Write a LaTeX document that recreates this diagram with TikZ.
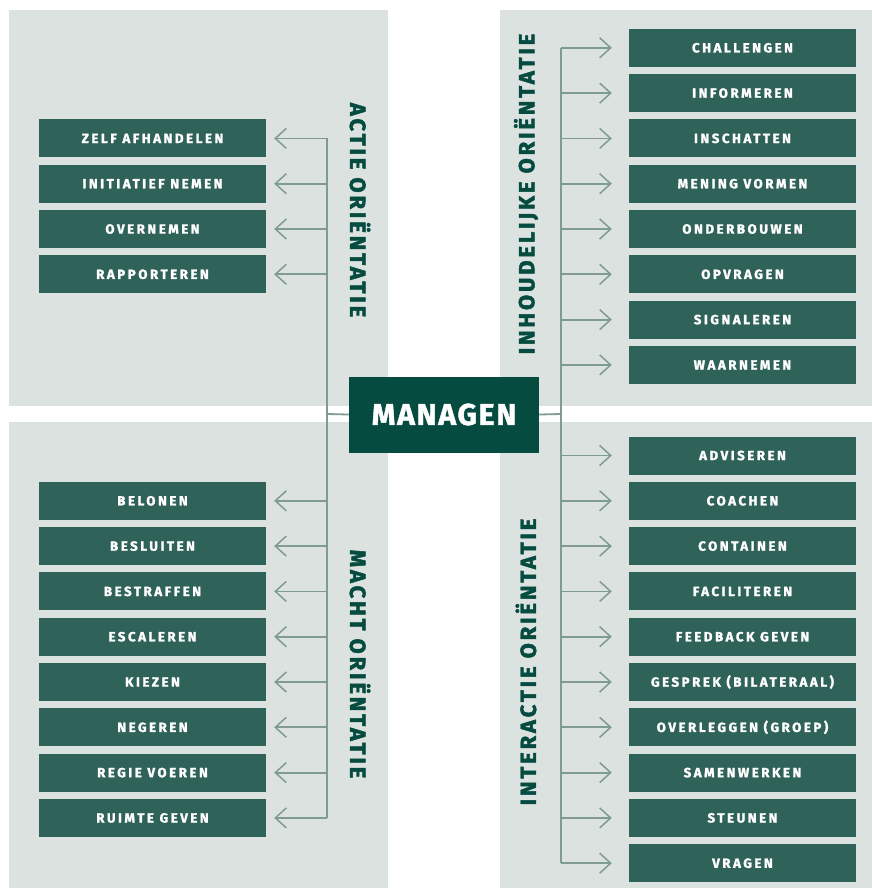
\documentclass[tikz,border=0pt]{standalone}
\usepackage{fontspec}
\setmainfont{Fira Sans}
\newfontfamily\boxfont[LetterSpace=19,BoldFeatures={FakeBold=1.6}]{Fira Sans}
\newfontfamily\titlefont[LetterSpace=13,BoldFeatures={FakeBold=2.2}]{Fira Sans}
\newfontfamily\mainfont[LetterSpace=6,BoldFeatures={FakeBold=1.5}]{Fira Sans}
\usetikzlibrary{arrows.meta,calc}
\definecolor{panelbg}{HTML}{DBE2E0}
\definecolor{boxfill}{HTML}{2F6259}
\definecolor{darkgreen}{HTML}{064B3F}
\definecolor{linec}{HTML}{7F9B93}
\tikzset{
  panel/.style={fill=panelbg,draw=none},
  item/.style={fill=boxfill,draw=none,minimum width=227pt,minimum height=38pt,inner sep=0pt,text=white,font=\boxfont\bfseries\fontsize{13.3}{13.3}\selectfont},
  title/.style={text=darkgreen,font=\titlefont\bfseries\fontsize{22}{22}\selectfont,inner sep=0pt},
  trunk/.style={draw=linec,line width=1.8pt},
  conn/.style={draw=linec,line width=1.8pt,-{Straight Barb[length=11pt,width=20pt,line width=1.5pt]}}
}
\begin{document}
\begin{tikzpicture}[x=1pt,y=-1pt]
\useasboundingbox (0,0) rectangle (872,889);
\fill[panel] (9,10) rectangle (388,406);
\fill[panel] (500,10) rectangle (872,406);
\fill[panel] (9,422) rectangle (388,888);
\fill[panel] (500,422) rectangle (872,888);

\coordinate (ltrunk) at (326.7,414);
\coordinate (rtrunk) at (561,414);

% left items
\foreach \k/\t in {2/ZELF AFHANDELEN,3/INITIATIEF NEMEN,4/OVERNEMEN,5/RAPPORTEREN,
  10/BELONEN,11/BESLUITEN,12/BESTRAFFEN,13/ESCALEREN,14/KIEZEN,15/NEGEREN,16/REGIE VOEREN,17/RUIMTE GEVEN}{
  \node[item] (L\k) at (152.5,{47.8+45.3*\k}) {\t};
  \draw[conn] (L\k.east -| ltrunk) -- ([xshift=8pt]L\k.east);
}
% right items
\foreach \k/\t in {0/CHALLENGEN,1/INFORMEREN,2/INSCHATTEN,3/MENING VORMEN,4/ONDERBOUWEN,5/OPVRAGEN,6/SIGNALEREN,7/WAARNEMEN,
  9/ADVISEREN,10/COACHEN,11/CONTAINEN,12/FACILITEREN,13/FEEDBACK GEVEN,14/GESPREK (BILATERAAL),15/OVERLEGGEN (GROEP),16/SAMENWERKEN,17/STEUNEN,18/VRAGEN}{
  \node[item] (R\k) at (742.5,{47.8+45.3*\k}) {\t};
  \draw[conn] (R\k.west -| rtrunk) -- ([xshift=-17pt]R\k.west);
}
\draw[trunk] (L2.east -| ltrunk) -- (L17.east -| ltrunk);
\draw[trunk] (R0.west -| rtrunk) -- (R18.west -| rtrunk);

\node[fill=darkgreen,minimum width=190pt,minimum height=76pt,inner sep=0pt,text=white,font=\mainfont\bfseries\fontsize{30}{30}\selectfont] (man) at (444,414.5) {MANAGEN};
\draw[trunk] (ltrunk) -- (man.west);
\draw[trunk] (man.east) -- (rtrunk);

\node[title,rotate=-90] (t1) at (360,210) {ACTIE ORIËNTATIE};
\node[title,rotate=-90] (t2) at (360,664) {MACHT ORIËNTATIE};
\node[title,rotate=90] (t3) at (526,194) {INHOUDELIJKE ORIËNTATIE};
\node[title,rotate=90] (t4) at (526,662) {INTERACTIE ORIËNTATIE};
\end{tikzpicture}
\end{document}
